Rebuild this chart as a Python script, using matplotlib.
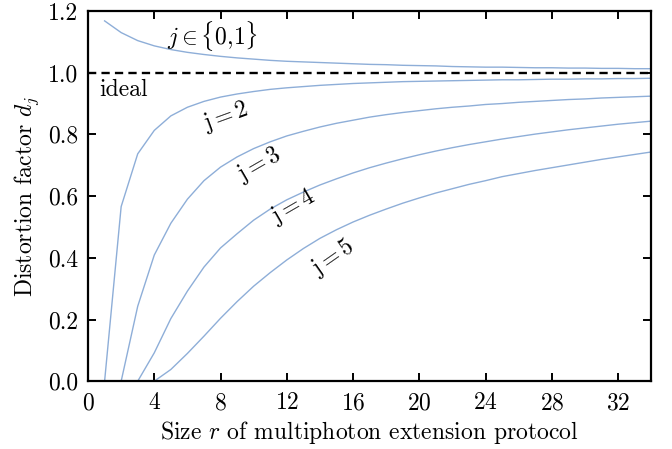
import numpy as np
import matplotlib
matplotlib.use("Agg")
import matplotlib.pyplot as plt

plt.rcParams['font.family'] = 'serif'
plt.rcParams['font.serif'] = ['cmr10']
plt.rcParams['mathtext.fontset'] = 'cm'
plt.rcParams['axes.formatter.use_mathtext'] = True

r01 = list(range(1, 35))
d01 = [1.168, 1.130, 1.104, 1.087, 1.075, 1.066, 1.059, 1.053, 1.048, 1.044,
       1.040, 1.037, 1.035, 1.033, 1.031, 1.029, 1.027, 1.026, 1.024, 1.023,
       1.022, 1.020, 1.019, 1.018, 1.018, 1.017, 1.016, 1.016, 1.015, 1.015,
       1.014, 1.014, 1.013, 1.013]

r2 = list(range(1, 35))
d2 = [0.0, 0.566, 0.737, 0.813, 0.860, 0.888, 0.907, 0.921, 0.931, 0.939,
      0.946, 0.951, 0.955, 0.959, 0.962, 0.965, 0.967, 0.969, 0.971, 0.972,
      0.973, 0.974, 0.975, 0.976, 0.977, 0.977, 0.978, 0.979, 0.979, 0.980,
      0.980, 0.981, 0.981, 0.982]

r3 = list(range(2, 35))
d3 = [0.0, 0.243, 0.409, 0.512, 0.590, 0.650, 0.694, 0.727, 0.754, 0.776,
      0.795, 0.810, 0.824, 0.836, 0.846, 0.856, 0.864, 0.871, 0.877, 0.883,
      0.888, 0.892, 0.897, 0.900, 0.904, 0.907, 0.910, 0.913, 0.915, 0.918,
      0.920, 0.922, 0.924]

r4 = list(range(3, 35))
d4 = [0.0, 0.092, 0.203, 0.292, 0.370, 0.432, 0.478, 0.522, 0.558, 0.588,
      0.613, 0.636, 0.656, 0.675, 0.692, 0.707, 0.721, 0.734, 0.746, 0.757,
      0.767, 0.776, 0.785, 0.793, 0.801, 0.808, 0.815, 0.821, 0.827, 0.833,
      0.838, 0.843]

r5 = list(range(4, 35))
d5 = [0.0, 0.038, 0.090, 0.146, 0.204, 0.258, 0.308, 0.352, 0.393, 0.430,
      0.463, 0.491, 0.516, 0.538, 0.558, 0.577, 0.594, 0.610, 0.624, 0.638,
      0.650, 0.663, 0.673, 0.683, 0.692, 0.701, 0.710, 0.719, 0.727, 0.735,
      0.743]

curves = [(r01, d01), (r2, d2), (r3, d3), (r4, d4), (r5, d5)]
blue = '#8eaed8'
fs = 17

fig = plt.figure(figsize=(6.72, 4.49), dpi=100)
ax = fig.add_axes([0.131, 0.151, 0.838, 0.8245])

for rr, dd in curves:
    ax.plot(rr, dd, color=blue, lw=1.0)
ax.plot([0, 34], [1, 1], color='black', lw=1.7, ls='--', dashes=(3.5, 2.2))

ax.text(0.7, 0.945, 'ideal', fontsize=fs, va='center', ha='left')
ax.text(7.5, 1.12, r'$j\in\{0{,}1\}$', fontsize=fs, ha='center', va='center')
ax.text(8.3, 0.857, r'$\mathrm{j}=2$', fontsize=fs, ha='center', va='center', rotation=20)
ax.text(10.3, 0.70, r'$\mathrm{j}=3$', fontsize=fs, ha='center', va='center', rotation=30)
ax.text(12.4, 0.565, r'$\mathrm{j}=4$', fontsize=fs, ha='center', va='center', rotation=30)
ax.text(14.8, 0.40, r'$\mathrm{j}=5$', fontsize=fs, ha='center', va='center', rotation=35)

ax.set_xlim(0, 34)
ax.set_ylim(0, 1.2)
ax.set_xticks(np.arange(0, 33, 4))
ax.set_yticks(np.arange(0, 1.21, 0.2))
ax.set_yticklabels(['0.0', '0.2', '0.4', '0.6', '0.8', '1.0', '1.2'])
ax.tick_params(direction='in', top=True, right=True, length=6, width=1.4,
               labelsize=fs)
ax.tick_params(axis='x', pad=8)
ax.tick_params(axis='y', pad=7)
for s in ax.spines.values():
    s.set_linewidth(1.6)

ax.set_xlabel(r'Size $r$ of multiphoton extension protocol', fontsize=fs, labelpad=3)
ax.set_ylabel(r'Distortion factor $d_j$', fontsize=fs, labelpad=5)

fig.savefig('out.png', dpi=100)
